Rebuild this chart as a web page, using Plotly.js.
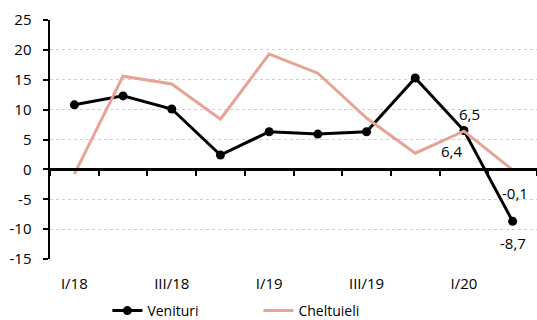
<!DOCTYPE html>
<html>
<head>
<meta charset="utf-8">
<script src="https://cdn.plot.ly/plotly-3.0.1.min.js"></script>
<style>
  html, body { margin: 0; padding: 0; background: #fff; }
  #chart { width: 537px; height: 320px; }
</style>
</head>
<body>
<div id="chart"></div>
<script>
// Quarterly categories and the two series (annual % change)
const quarters = ["I/18", "II/18", "III/18", "IV/18", "I/19", "II/19", "III/19", "IV/19", "I/20", "II/20"];
const shownTicks = ["I/18", "III/18", "I/19", "III/19", "I/20"];
const venituri = [10.8, 12.3, 10.1, 2.4, 6.3, 5.9, 6.3, 15.3, 6.5, -8.7];
const cheltuieli = [-0.8, 15.6, 14.3, 8.4, 19.3, 16.1, 8.6, 2.7, 6.4, -0.1];
const yTicks = [-15, -10, -5, 0, 5, 10, 15, 20, 25];

const FONT = "Open Sans, Noto Sans, sans-serif";
const PINK = "#E6A497";
const yRange = [-15, 25];
const xRange = [-0.5, quarters.length - 0.5];

// Boundaries between quarters for the tick marks on the zero line
const boundaries = quarters.map((q, i) => i + 0.5);
boundaries.unshift(-0.5);

const fmt = v => v.toFixed(1).replace(".", ",");

const traces = [
  {
    x: quarters, y: venituri, name: "Venituri", type: "scatter", mode: "lines+markers",
    line: { color: "#000", width: 3 },
    marker: { color: "#000", size: 9 }
  },
  {
    x: quarters, y: cheltuieli, name: "Cheltuieli", type: "scatter", mode: "lines",
    line: { color: PINK, width: 3 }
  },
  // carrier for the zero-line axis
  { x: [0], y: [0], xaxis: "x2", type: "scatter", mode: "markers",
    marker: { opacity: 0 }, showlegend: false, hoverinfo: "skip" }
];

const last = quarters.length - 1;
const prev = quarters.length - 2;
const annotations = [
  { x: quarters[prev], y: venituri[prev], text: fmt(venituri[prev]), xshift: 6, yshift: 17 },
  { x: quarters[prev], y: cheltuieli[prev], text: fmt(cheltuieli[prev]), xshift: -12, yshift: -20 },
  { x: quarters[last], y: cheltuieli[last], text: fmt(cheltuieli[last]), xshift: 2, yshift: -23 },
  { x: quarters[last], y: venituri[last], text: fmt(venituri[last]), xshift: 0, yshift: -22 }
].map(a => Object.assign(a, {
  xref: "x", yref: "y", showarrow: false,
  font: { family: FONT, size: 15, color: "#000" }
}));

const layout = {
  width: 537, height: 320,
  margin: { l: 50, r: 0, t: 20, b: 61, autoexpand: false },
  paper_bgcolor: "#fff", plot_bgcolor: "#fff",
  font: { family: FONT, size: 14, color: "#000" },
  showlegend: true,
  legend: {
    orientation: "h", xref: "container", yref: "paper",
    x: 0.2, xanchor: "left", y: -0.2176, yanchor: "middle",
    bgcolor: "rgba(0,0,0,0)",
    font: { family: FONT, size: 14, color: "#000" },
    itemwidth: 30, entrywidth: 106, tracegroupgap: 0
  },
  xaxis: {
    type: "category", categoryorder: "array", categoryarray: quarters,
    range: xRange, tickvals: shownTicks, ticktext: shownTicks,
    showline: false, showgrid: false, zeroline: false, ticks: "",
    ticklabelstandoff: 14, tickfont: { family: FONT, size: 15, color: "#000" },
    automargin: false, fixedrange: true
  },
  xaxis2: {
    type: "linear", overlaying: "x", anchor: "free",
    position: (0 - yRange[0]) / (yRange[1] - yRange[0]),
    range: xRange, tickvals: boundaries, showticklabels: false,
    ticks: "outside", ticklen: 5, tickwidth: 2, tickcolor: "#000",
    showline: true, linecolor: "#000", linewidth: 2.5,
    showgrid: false, zeroline: false
  },
  yaxis: {
    range: yRange, tickvals: yTicks, ticktext: yTicks.map(String),
    showline: true, linecolor: "#000", linewidth: 2.5,
    ticks: "outside", ticklen: 5, tickwidth: 2, tickcolor: "#000",
    showgrid: true, gridcolor: "#cfcfcf", gridwidth: 1, griddash: "dot",
    zeroline: false, ticklabelstandoff: 8, automargin: false,
    tickfont: { family: FONT, size: 15, color: "#000" },
    fixedrange: true
  },
  annotations: annotations
};

Plotly.newPlot("chart", traces, layout, { staticPlot: true, displayModeBar: false });
</script>
</body>
</html>
